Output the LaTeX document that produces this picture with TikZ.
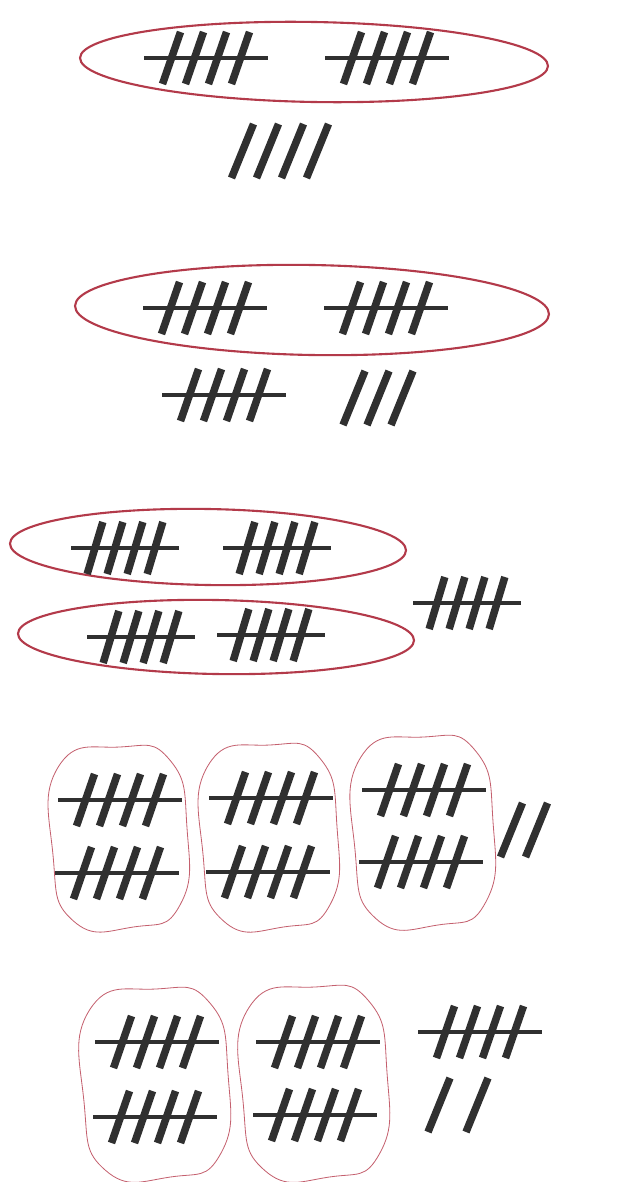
\documentclass[tikz,border=0pt]{standalone}
\definecolor{tallygray}{HTML}{303030}
\definecolor{loopred}{HTML}{B33A4A}
\definecolor{blobred}{HTML}{C4606E}
\begin{document}
\begin{tikzpicture}[x=0.03cm,y=-0.03cm,
 tally/.style={line width=6.4pt,draw=tallygray},
 bar/.style={line width=3.8pt,draw=tallygray},
 loop/.style={line width=1.8pt,draw=loopred},
 blobline/.style={line width=0.7pt,draw=blobred},
 pics/five/.style={code={
   \foreach \m in {-34.5,-11.5,11.5,34.5}
     \draw[tally] (\m-9,26) -- (\m+9,-26);
   \draw[bar] (-62,0) -- (62,0);}},
 pics/loose/.style={code={
   \foreach \m in {#1}
     \draw[tally] (\m-11,27) -- (\m+11,-27);}},
 pics/blob/.style={code={
   \draw[blobline] plot[smooth cycle,tension=0.9] coordinates
     {(-0.92,-0.78) (0,-1) (0.75,-0.85) (1,-0.1) (0.9,0.75)
      (0.2,1) (-0.7,0.93) (-1,0.2)};}}]
\useasboundingbox (0,0) rectangle (618,1182);

% ten and four
\draw[loop,rotate around={-1:(314,62)}] (314,62) ellipse [x radius=234,y radius=40];
\pic at (206,58) {five};
\pic at (387,58) {five};
\pic at (280,151) {loose={-37.5,-12.5,12.5,37.5}};

% ten and eight
\draw[loop,rotate around={-1:(312,310)}] (312,310) ellipse [x radius=237,y radius=45];
\pic at (205,308) {five};
\pic at (386,308) {five};
\pic at (224,395) {five};
\pic at (378,398) {loose={-24,0,24}};

% two tens and five
\draw[loop,rotate around={-1:(208,547)}] (208,547) ellipse [x radius=198,y radius=38];
\draw[loop,rotate around={-1:(216,637)}] (216,637) ellipse [x radius=198,y radius=37];
\pic[xscale=0.87] at (125,548) {five};
\pic[xscale=0.87] at (277,548) {five};
\pic[xscale=0.87] at (141,637) {five};
\pic[xscale=0.87] at (271,635) {five};
\pic[xscale=0.87] at (467,603) {five};

% three tens and two
\pic[xscale=67,yscale=90] at (120,837) {blob};
\pic[xscale=67,yscale=91] at (270,836) {blob};
\pic[xscale=69,yscale=94] at (424,831) {blob};
\pic at (120,800) {five};
\pic at (117,873) {five};
\pic at (271,798) {five};
\pic at (268,872) {five};
\pic at (424,790) {five};
\pic at (421,862) {five};
\pic at (524,830) {loose={-12.5,12.5}};

% two tens, five and two
\pic[xscale=72,yscale=94] at (156,1083) {blob};
\pic[xscale=72,yscale=95] at (315,1082) {blob};
\pic at (157,1042) {five};
\pic at (155,1117) {five};
\pic at (318,1042) {five};
\pic at (315,1115) {five};
\pic at (480,1032) {five};
\pic at (458,1105) {loose={-19,19}};
\end{tikzpicture}
\end{document}
